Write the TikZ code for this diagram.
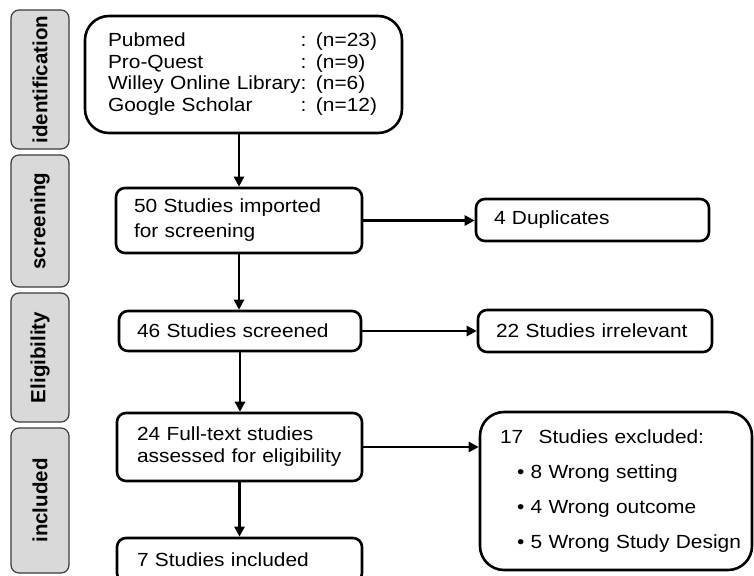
\documentclass[tikz,border=0pt]{standalone}
\usepackage{fontspec}
\setmainfont{Liberation Sans}[FakeStretch=1.1]
\newfontfamily\phasefont{Liberation Sans}
\usetikzlibrary{arrows.meta}

\definecolor{phasefill}{RGB}{217,217,217}
\definecolor{phaseline}{RGB}{60,60,60}

\begin{document}
\begin{tikzpicture}[
    x=1pt, y=-1pt,
    >={Triangle[length=10pt,width=10pt]},
    phase/.style={draw=phaseline, fill=phasefill, line width=1.2pt, rounded corners=8pt,
      rotate=90, minimum height=58pt, inner sep=0pt,
      font=\phasefont\bfseries\fontsize{20.5}{24}\selectfont},
    box/.style={draw, line width=2.6pt, rounded corners=9pt, align=left,
      inner xsep=18pt, inner ysep=0pt, font=\fontsize{19}{23}\selectfont},
    conn/.style={->, line width=2.6pt}
  ]
    \useasboundingbox (0,0) rectangle (754,575);

    %=== phase tabs (left column) ===%
    \node[phase, minimum width=139pt] (pid)  at (40, 79.5) {identification};
    \node[phase, minimum width=132pt] (pscr) at (40,221)   {screening};
    \node[phase, minimum width=129pt] (pel)  at (40,357.5) {Eligibility};
    \node[phase, minimum width=145pt] (pinc) at (40,500.5) {included};

    %=== main column ===%
    \node[box, rounded corners=24pt, inner xsep=23pt, text width=271pt, minimum height=117pt,
      font=\fontsize{19}{21.5}\selectfont] (src) at (243.5,74.5)
      {\begin{tabular}{@{}l@{}l@{}}
         Pubmed & : (n=23)\\
         Pro-Quest & : (n=9)\\
         Willey Online Library & : (n=6)\\
         Google Scholar & : (n=12)
       \end{tabular}};
    \node[box, text width=210pt, minimum height=65pt, font=\fontsize{19}{25}\selectfont]
      (imp) at (239,220.5) {50 Studies imported\\for screening};
    \node[box, text width=206pt, minimum height=40pt] (scr) at (240,331) {46 Studies screened};
    \node[box, inner xsep=20pt, text width=205pt, minimum height=68pt,
      font=\fontsize{19}{22}\selectfont] (full) at (239.5,447)
      {24 Full-text studies\\assessed for eligibility};
    \node[box, inner xsep=20pt, text width=205pt, minimum height=44pt] (incl) at (239.5,560)
      {7 Studies included};

    %=== excluded column ===%
    \node[box, text width=197pt, minimum height=42pt] (dup) at (592.5,220) {4 Duplicates};
    \node[box, text width=198pt, minimum height=42pt] (irr) at (595,331) {22 Studies irrelevant};
    \node[box, rounded corners=24pt, inner xsep=20pt, text width=232pt, minimum height=158pt,
      font=\fontsize{19}{35}\selectfont] (excl) at (616,491)
      {\mbox{17\hspace*{9pt} Studies excluded:}\\
       \mbox{\hspace*{17pt}\textbullet\ 8 Wrong setting}\\
       \mbox{\hspace*{17pt}\textbullet\ 4 Wrong outcome}\\
       \mbox{\hspace*{17pt}\textbullet\ 5 Wrong Study Design}};

    %=== arrows ===%
    \draw[conn] (src.south -| imp.north) -- (imp.north);
    \draw[conn] (imp.south) -- (imp.south |- scr.north);
    \draw[conn] (scr.south) -- (scr.south |- full.north);
    \draw[conn] (full.south) -- (incl.north);
    \draw[conn] (imp.east) -- (imp.east -| dup.west);
    \draw[conn] (scr.east) -- (scr.east -| irr.west);
    \draw[conn] (full.east) -- (full.east -| excl.west);

  \end{tikzpicture}
\end{document}
